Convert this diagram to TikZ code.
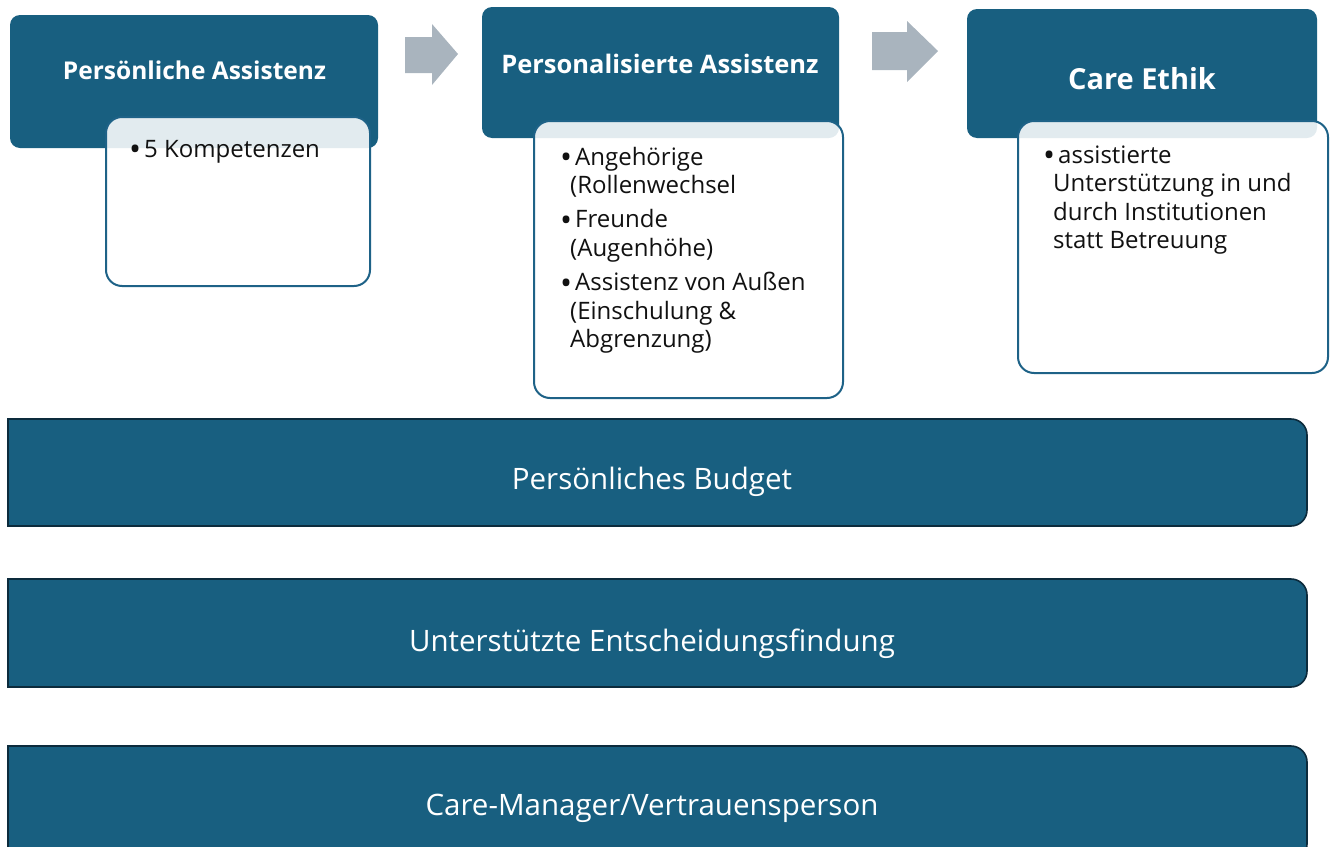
\documentclass[tikz,border=0pt]{standalone}
\usepackage{fontspec}
\setmainfont{Open Sans}

\definecolor{headblue}{HTML}{185F80}
\definecolor{detailline}{HTML}{1E6287}
\definecolor{barline}{HTML}{0C2B3C}
\definecolor{flowgray}{HTML}{A9B4BE}
\definecolor{bodytext}{HTML}{111111}

% bullet line and its continuation lines
\newcommand{\bdot}{{\fontsize{32}{32}\selectfont\raisebox{-3.6pt}{\textbullet}}}
\newcommand{\bitem}[1]{\makebox[15pt][l]{\bdot}#1}
\newcommand{\bcont}[1]{\hspace*{10pt}#1}

\begin{document}
\begin{tikzpicture}[x=1pt,y=-1pt,
  headbox/.style={fill=headblue, rounded corners=10pt, inner sep=0pt},
  headtitle/.style={text=white, font=\bfseries\fontsize{24.5}{29}\selectfont, inner sep=0pt, anchor=base},
  detailbox/.style={draw=detailline, line width=2pt, fill=white, fill opacity=0.88,
    rounded corners=16pt, inner sep=0pt},
  detailtext/.style={text=bodytext, font=\fontsize{24}{28.6}\selectfont, inner sep=0pt,
    anchor=base west, align=left},
  flowarrow/.style={fill=flowgray},
  barshape/.style={fill=headblue, draw=barline, line width=1.6pt},
  bartext/.style={text=white, font=\fontsize{29.5}{34}\selectfont, inner sep=0pt, anchor=base}
]
\useasboundingbox (0,0) rectangle (1335,846);

% --- top row: three stages ---
\node[headbox, minimum width=368pt, minimum height=133pt] (pa) at (194,81.5) {};
\node[headbox, minimum width=357pt, minimum height=131pt] (pza) at (660.5,72.5) {};
\node[headbox, minimum width=350pt, minimum height=129pt] (ce) at (1142,73.5) {};

\node[headtitle] (paTitle) at (194.5,79) {Persönliche Assistenz};
\node[headtitle, font=\bfseries\fontsize{25.5}{30}\selectfont] (pzaTitle) at (660,73) {Personalisierte Assistenz};
\node[headtitle, font=\bfseries\fontsize{29}{34}\selectfont] (ceTitle) at (1142,89) {Care Ethik};

% detail cards overlapping the stage boxes
\node[detailbox, minimum width=264pt, minimum height=169pt] (paCard) at (238,201.5) {};
\node[detailbox, minimum width=309pt, minimum height=277pt] (pzaCard) at (688.5,259.5) {};
\node[detailbox, minimum width=310pt, minimum height=252pt] (ceCard) at (1173,247) {};

\node[detailtext] (paList) at (129,157) {\bitem{5 Kompetenzen}};
\node[detailtext] (pzaList) at (560,165) {%
  \begin{tabular}[t]{@{}l@{}}
  \bitem{Angehörige}\\
  \bcont{(Rollenwechsel}\\[5.5pt]
  \bitem{Freunde}\\
  \bcont{(Augenhöhe)}\\[5.5pt]
  \bitem{Assistenz von Außen}\\
  \bcont{(Einschulung \&}\\
  \bcont{Abgrenzung)}
  \end{tabular}};
\node[detailtext] (ceList) at (1043,163) {%
  \begin{tabular}[t]{@{}l@{}}
  \bitem{assistierte}\\
  \bcont{Unterstützung in und}\\
  \bcont{durch Institutionen}\\
  \bcont{statt Betreuung}
  \end{tabular}};

% block arrows between the stages
\fill[flowarrow] (405,37) -- (432,37) -- (432,24) -- (458,54) -- (432,85) -- (432,73) -- (405,73) -- cycle;
\fill[flowarrow] (872,32) -- (907,32) -- (907,21) -- (938,51) -- (907,82) -- (907,70) -- (872,70) -- cycle;

% --- bottom: three supporting bars, rounded at the top only ---
\path[barshape] (650,526) -- (8,526) -- (8,419) [rounded corners=16pt] -- (1307,419) -- (1307,526) [sharp corners] -- cycle;
\path[barshape] (650,687) -- (8,687) -- (8,579) [rounded corners=16pt] -- (1307,579) -- (1307,687) [sharp corners] -- cycle;
\path[barshape] (650,860) -- (8,860) -- (8,746) [rounded corners=16pt] -- (1307,746) -- (1307,860) [sharp corners] -- cycle;

\node[bartext] (budget) at (652,489) {Persönliches Budget};
\node[bartext] (decision) at (652,651) {Unterstützte Entscheidungsfindung};
\node[bartext] (trust) at (652,815) {Care-Manager/Vertrauensperson};
\end{tikzpicture}
\end{document}
